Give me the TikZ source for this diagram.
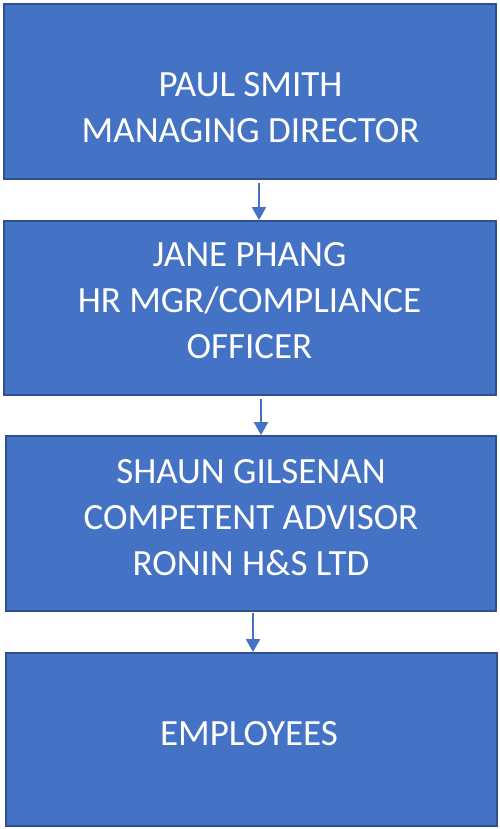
\documentclass[tikz,border=0pt]{standalone}
\usepackage{fontspec}
\setmainfont{Carlito}
\usetikzlibrary{arrows.meta}
\definecolor{boxfill}{HTML}{4472C4}
\definecolor{boxedge}{HTML}{2F528F}
\begin{document}
\begin{tikzpicture}[x=1pt,y=-1pt,
  orgbox/.style={draw=boxedge,fill=boxfill,line width=1.8pt,rectangle,inner sep=0pt},
  lbl/.style={text=white,align=center,inner sep=0pt,font=\fontsize{37}{46}\selectfont},
  conn/.style={draw=boxfill,line width=2pt,-{Triangle[width=14pt,length=13pt]}}]
\useasboundingbox[fill=white] (0,0) rectangle (500,829);
\node[orgbox,minimum width=492pt,minimum height=175pt] (b1) at (250,91.5) {};
\node[orgbox,minimum width=492pt,minimum height=174pt] (b2) at (250,308) {};
\node[orgbox,minimum width=490pt,minimum height=175pt] (b3) at (251,523.5) {};
\node[orgbox,minimum width=491pt,minimum height=173pt] (b4) at (251.5,739.5) {};
\node[lbl] (t1) at (250.5,107.2) {PAUL SMITH\\MANAGING DIRECTOR};
\node[lbl] (t2) at (249.5,301) {JANE PHANG\\HR MGR/COMPLIANCE\\OFFICER};
\node[lbl] (t3) at (251,518) {SHAUN GILSENAN\\COMPETENT ADVISOR\\RONIN H\&S LTD};
\node[lbl] (t4) at (249,734) {EMPLOYEES};
\draw[conn,shorten <=3pt] ([xshift=9pt]b1.south) -- ([xshift=9pt]b2.north);
\draw[conn,shorten <=3pt] ([xshift=11pt]b2.south) -- ([xshift=10pt]b3.north);
\draw[conn,shorten <=1pt] ([xshift=2pt]b3.south) -- ([xshift=1.5pt]b4.north);
\end{tikzpicture}
\end{document}
